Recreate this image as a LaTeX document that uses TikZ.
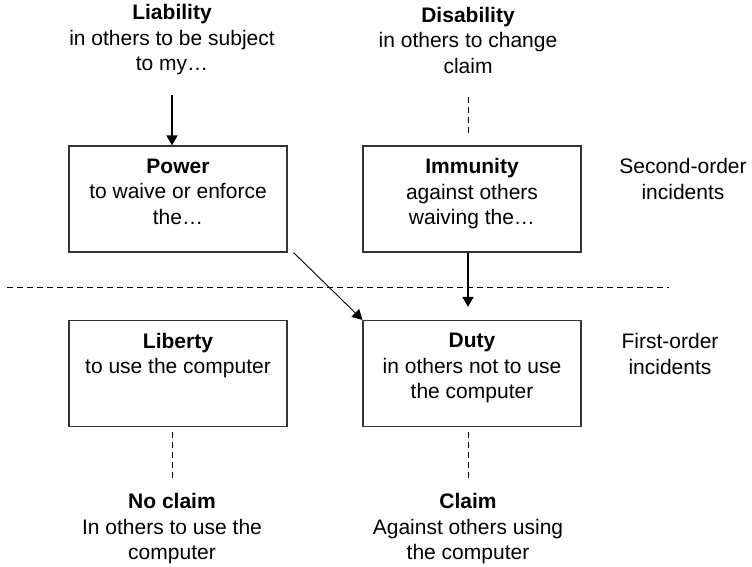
\documentclass[tikz,border=0pt]{standalone}
\usepackage{fontspec}
\setmainfont{Liberation Sans}
\usetikzlibrary{positioning,arrows.meta}

\tikzset{
  box/.style={draw=black!80, line width=1.2pt, minimum width=218pt, minimum height=106pt, inner sep=0pt},
  lbl/.style={align=center, inner sep=0pt},
  arr/.style={-{Triangle[length=10pt,width=11pt]}},
  sepline/.style={dash pattern=on 6pt off 4pt, line width=1pt}
}

\begin{document}
\begin{tikzpicture}[x=1pt,y=-1pt,font=\fontsize{21}{25.5}\selectfont]
\useasboundingbox (0,0) rectangle (752,567);

% Boxes
\node[box] (power) at (178,199) {};
\node[box] (immunity) at (472,199) {};
\node[box] (liberty) at (178,373.5) {};
\node[box] (duty) at (472,373.5) {};

% Box texts (top aligned)
\node[lbl, below=13pt of power.north] (powertxt) {\textbf{Power}\\to waive or enforce\\the…};
\node[lbl, below=13pt of immunity.north] (immunitytxt) {\textbf{Immunity}\\against others\\waiving the…};
\node[lbl, below=13pt of liberty.north] (libertytxt) {\textbf{Liberty}\\to use the computer};
\node[lbl, below=13pt of duty.north] (dutytxt) {\textbf{Duty}\\in others not to use\\the computer};

% Outside labels
\node[lbl] (liab) at (172,40) {\textbf{Liability}\\in others to be subject\\to my…};
\node[lbl] (disab) at (468,40) {\textbf{Disability}\\in others to change\\claim};
\node[lbl] (noclaim) at (172,529) {\textbf{No claim}\\In others to use the\\computer};
\node[lbl] (claim) at (468,529) {\textbf{Claim}\\Against others using\\the computer};
\node[lbl] (second) at (683,179) {Second-order\\incidents};
\node[lbl] (first) at (670,354) {First-order\\incidents};

% Separator between the two orders
\draw[sepline] (7,287) -- (669,287);

% Connectors
\draw[arr, line width=1.6pt, shorten <=20pt] (liab.south) -- (liab.south |- power.north);
\draw[sepline, shorten <=24pt, shorten >=8pt] (disab.south) -- (disab.south |- immunity.north);
\draw[arr, line width=1.6pt, shorten >=13pt] (disab.south |- immunity.south) -- (disab.south |- duty.north);
\draw[arr, line width=0.9pt] ([xshift=6pt]power.south east) -- (duty.north west);
\draw[sepline, shorten <=5pt, shorten >=14pt] (noclaim.north |- liberty.south) -- (noclaim.north);
\draw[sepline, shorten <=5pt, shorten >=14pt] (claim.north |- duty.south) -- (claim.north);
\end{tikzpicture}
\end{document}
